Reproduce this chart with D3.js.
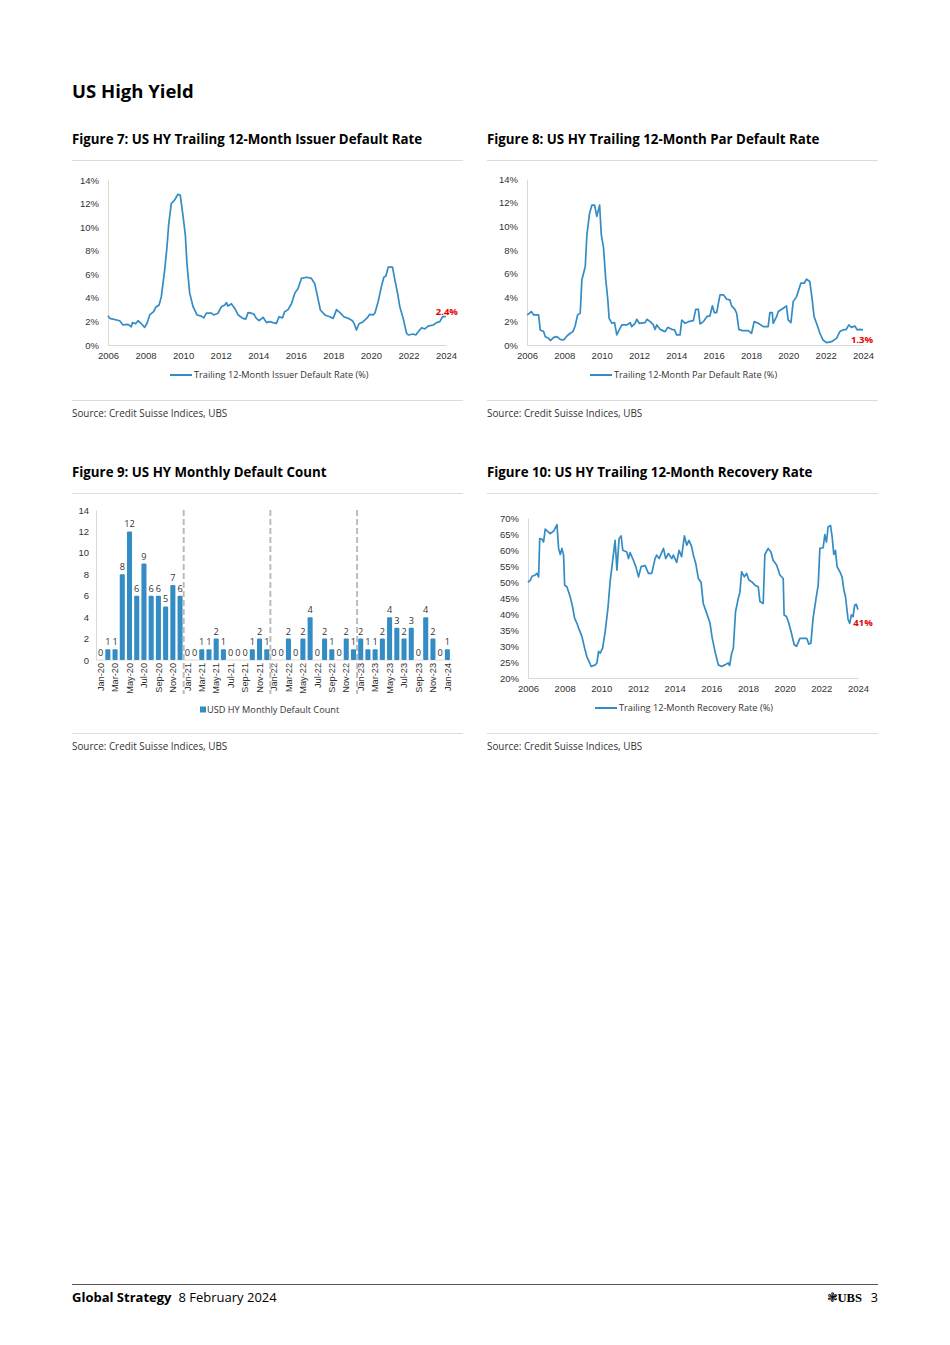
<!DOCTYPE html>
<html>
<head>
<meta charset="utf-8">
<script src="https://cdn.jsdelivr.net/npm/d3@7"></script>
<style>
  body { margin: 0; background: #fff; }
  svg { display: block; font-family: "Open Sans", "Noto Sans", sans-serif; }
</style>
</head>
<body>
<svg id="page" width="950" height="1345"></svg>
<script>
// ---- data ----
var yearTicks = [2006, 2008, 2010, 2012, 2014, 2016, 2018, 2020, 2022, 2024];

// Figure 7: trailing 12m issuer default rate, [year, %]
var issuerDefault = [
  [2006.00,2.49],[2006.10,2.26],[2006.62,2.06],[2006.80,1.70],[2007.07,1.75],[2007.24,1.55],
  [2007.30,1.90],[2007.47,1.80],[2007.60,2.06],[2007.78,1.80],[2007.95,1.50],[2008.08,1.84],
  [2008.22,2.55],[2008.43,2.83],[2008.54,3.20],[2008.72,3.40],[2008.84,4.10],[2009.02,6.40],
  [2009.14,8.30],[2009.23,10.20],[2009.37,12.00],[2009.55,12.30],[2009.73,12.80],[2009.85,12.70],
  [2010.00,10.90],[2010.12,9.30],[2010.21,6.80],[2010.35,4.40],[2010.53,3.25],[2010.74,2.55],
  [2010.97,2.45],[2011.10,2.30],[2011.24,2.70],[2011.51,2.70],[2011.63,2.55],[2011.86,2.70],
  [2012.04,3.25],[2012.22,3.40],[2012.31,3.60],[2012.39,3.30],[2012.57,3.50],[2012.75,3.10],
  [2012.93,2.55],[2013.19,2.26],[2013.34,2.20],[2013.46,2.75],[2013.64,2.70],[2013.78,2.60],
  [2013.90,2.26],[2014.05,2.06],[2014.26,2.35],[2014.44,1.90],[2014.61,1.98],[2014.79,1.90],
  [2014.97,1.84],[2015.11,2.40],[2015.29,2.30],[2015.41,2.83],[2015.59,3.00],[2015.77,3.50],
  [2015.95,4.40],[2016.12,4.80],[2016.30,5.65],[2016.57,5.75],[2016.83,5.65],[2017.01,5.20],
  [2017.14,4.25],[2017.31,2.97],[2017.55,2.55],[2017.81,2.40],[2017.99,2.26],[2018.17,3.00],
  [2018.38,2.70],[2018.56,2.40],[2018.79,2.26],[2019.02,2.06],[2019.14,1.70],[2019.23,1.27],
  [2019.37,1.80],[2019.59,1.98],[2019.80,2.30],[2019.94,2.60],[2020.12,2.55],[2020.21,2.70],
  [2020.39,3.70],[2020.56,4.95],[2020.69,5.75],[2020.80,5.85],[2020.92,6.60],[2021.15,6.60],
  [2021.28,5.50],[2021.42,4.40],[2021.54,3.25],[2021.72,2.26],[2021.90,1.00],[2021.99,0.85],
  [2022.25,0.93],[2022.39,0.85],[2022.52,1.13],[2022.70,1.47],[2022.87,1.36],[2023.05,1.60],
  [2023.32,1.70],[2023.50,1.90],[2023.67,1.98],[2023.82,2.40],[2023.99,2.40]
];

// Figure 8: trailing 12m par default rate, [year, %]
var parDefault = [
  [2006.00,2.54],[2006.09,2.62],[2006.23,2.82],[2006.36,2.54],[2006.62,2.54],[2006.71,1.27],
  [2006.89,1.13],[2006.98,0.70],[2007.16,0.56],[2007.25,0.37],[2007.43,0.65],[2007.60,0.70],
  [2007.78,0.48],[2007.96,0.42],[2008.14,0.76],[2008.32,0.99],[2008.46,1.13],[2008.58,1.60],
  [2008.71,2.54],[2008.85,2.68],[2008.94,5.50],[2009.12,6.60],[2009.21,9.30],[2009.35,11.10],
  [2009.48,11.80],[2009.62,11.80],[2009.74,10.85],[2009.89,11.80],[2009.98,9.30],[2010.10,8.20],
  [2010.22,5.50],[2010.33,3.80],[2010.40,2.25],[2010.55,1.83],[2010.69,1.89],[2010.81,0.85],
  [2010.94,1.27],[2011.08,1.69],[2011.35,1.69],[2011.53,1.89],[2011.61,1.55],[2011.79,1.83],
  [2011.88,2.17],[2012.01,1.83],[2012.33,1.89],[2012.42,2.17],[2012.60,1.97],[2012.77,1.69],
  [2012.86,1.32],[2012.95,1.69],[2013.13,1.32],[2013.40,1.13],[2013.54,1.49],[2013.75,1.32],
  [2013.90,1.27],[2014.02,0.85],[2014.20,0.85],[2014.29,2.11],[2014.47,1.83],[2014.65,1.97],
  [2014.91,2.06],[2015.04,3.00],[2015.18,3.00],[2015.27,1.77],[2015.45,1.97],[2015.63,2.39],
  [2015.80,2.45],[2015.93,3.30],[2016.04,2.73],[2016.16,2.73],[2016.34,4.23],[2016.52,4.23],
  [2016.70,3.86],[2016.87,3.80],[2016.96,3.30],[2017.14,3.00],[2017.23,2.68],[2017.35,1.32],
  [2017.53,1.21],[2017.85,1.21],[2018.03,0.99],[2018.17,1.97],[2018.39,1.83],[2018.66,1.55],
  [2018.92,1.55],[2019.01,2.73],[2019.14,2.73],[2019.19,1.83],[2019.37,2.39],[2019.46,2.82],
  [2019.73,3.10],[2019.90,3.30],[2019.99,2.11],[2020.14,1.89],[2020.26,3.66],[2020.44,4.08],
  [2020.67,5.21],[2020.85,5.21],[2020.97,5.55],[2021.15,5.35],[2021.28,3.80],[2021.38,2.39],
  [2021.51,1.83],[2021.69,0.99],[2021.86,0.42],[2022.04,0.20],[2022.31,0.28],[2022.58,0.56],
  [2022.76,1.13],[2022.93,1.27],[2023.11,1.32],[2023.24,1.69],[2023.38,1.49],[2023.56,1.60],
  [2023.70,1.27],[2023.83,1.32],[2024.00,1.27]
];

// Figure 10: trailing 12m recovery rate, [year, %]
var recoveryRate = [
  [2006.00,49.9],[2006.13,50.6],[2006.22,51.8],[2006.40,52.2],[2006.49,52.7],[2006.58,51.6],
  [2006.64,63.6],[2006.76,63.4],[2006.85,62.5],[2006.94,66.5],[2007.20,65.1],[2007.40,65.9],
  [2007.58,67.9],[2007.67,60.5],[2007.76,58.6],[2007.85,60.5],[2007.94,58.4],[2008.00,49.0],
  [2008.12,48.5],[2008.30,45.4],[2008.43,42.3],[2008.54,38.7],[2008.67,37.1],[2008.76,35.6],
  [2008.94,33.0],[2009.09,29.3],[2009.21,26.7],[2009.45,23.6],[2009.67,24.1],[2009.76,24.7],
  [2009.85,28.3],[2009.94,27.8],[2010.07,29.3],[2010.21,34.5],[2010.36,41.8],[2010.48,50.1],
  [2010.61,56.3],[2010.75,63.0],[2010.85,53.7],[2010.97,63.6],[2011.08,64.4],[2011.17,59.9],
  [2011.39,59.4],[2011.48,57.3],[2011.57,59.2],[2011.75,56.8],[2011.88,54.8],[2012.03,51.6],
  [2012.17,54.8],[2012.39,55.1],[2012.57,52.7],[2012.75,52.7],[2012.93,57.3],[2013.02,58.4],
  [2013.15,57.3],[2013.39,60.5],[2013.51,57.3],[2013.66,58.9],[2013.84,57.3],[2013.93,58.4],
  [2014.11,56.1],[2014.24,59.9],[2014.38,57.9],[2014.53,64.4],[2014.66,61.5],[2014.78,63.0],
  [2014.93,61.0],[2015.02,58.4],[2015.15,55.8],[2015.29,51.1],[2015.44,49.9],[2015.56,43.3],
  [2015.75,40.2],[2015.93,37.1],[2016.05,32.4],[2016.20,28.3],[2016.38,24.1],[2016.56,23.6],
  [2016.74,24.1],[2016.92,24.7],[2017.00,23.9],[2017.10,27.5],[2017.20,29.3],[2017.32,40.7],
  [2017.47,44.9],[2017.56,46.8],[2017.65,53.2],[2017.80,51.6],[2017.92,52.7],[2018.05,50.6],
  [2018.20,50.1],[2018.38,49.0],[2018.56,48.5],[2018.65,43.9],[2018.83,43.3],[2018.92,58.6],
  [2019.10,60.5],[2019.25,59.4],[2019.37,56.8],[2019.56,55.3],[2019.74,52.2],[2019.92,51.1],
  [2019.97,39.7],[2020.10,39.2],[2020.23,37.1],[2020.37,34.0],[2020.52,30.4],[2020.65,29.9],
  [2020.83,32.4],[2021.20,32.4],[2021.32,30.6],[2021.43,30.9],[2021.55,38.7],[2021.74,45.9],
  [2021.83,49.0],[2021.92,60.5],[2022.10,60.7],[2022.19,64.8],[2022.28,62.5],[2022.37,67.2],
  [2022.50,67.7],[2022.59,64.1],[2022.68,58.6],[2022.77,59.9],[2022.86,54.8],[2023.01,53.2],
  [2023.13,51.6],[2023.23,47.5],[2023.32,45.4],[2023.46,38.2],[2023.55,37.1],[2023.64,39.7],
  [2023.73,39.2],[2023.82,42.8],[2023.91,43.0],[2024.00,41.3]
];

// Figure 9: monthly default count Jan-20 .. Jan-24
var monthNames = ["Jan","Feb","Mar","Apr","May","Jun","Jul","Aug","Sep","Oct","Nov","Dec"];
var months = [];
[20, 21, 22, 23].forEach(function (yy) {
  monthNames.forEach(function (m) { months.push(m + "-" + yy); });
});
months.push("Jan-24");
var defaultCount = [
  0, 1, 1, 8, 12, 6, 9, 6, 6, 5, 7, 6,
  0, 0, 1, 1, 2, 1, 0, 0, 0, 1, 2, 1,
  0, 0, 2, 0, 2, 4, 0, 2, 1, 0, 2, 1,
  2, 1, 1, 2, 4, 3, 2, 3, 0, 4, 2, 0,
  1
];
var yearBreaks = ["Jan-21", "Jan-22", "Jan-23"];

// ---- styles ----
var BLUE = "#348cc4";
var RED = "#e60000";
var TXT = "#333";
var AXIS = "#d9d9d9";
var RULE = "#dcdcdc";

var svg = d3.select("#page");

function pageText(x, y, str, size, weight, anchor, fill) {
  return svg.append("text")
    .attr("x", x).attr("y", y)
    .attr("font-size", size)
    .attr("font-weight", weight || "normal")
    .attr("text-anchor", anchor || "start")
    .attr("fill", fill || "#000")
    .text(str);
}

// ---- page furniture ----
pageText(72, 98, "US High Yield", 18.5, "bold");

function panel(x, top, title, source) {
  pageText(x, top, title, 13.3, "bold");
  svg.append("line").attr("x1", x).attr("x2", x + 391)
    .attr("y1", top + 16.5).attr("y2", top + 16.5).attr("stroke", RULE);
  svg.append("line").attr("x1", x).attr("x2", x + 391)
    .attr("y1", top + 256.5).attr("y2", top + 256.5).attr("stroke", RULE);
  pageText(x, top + 273, source, 9.9, "normal", "start", TXT);
}
panel(72, 144, "Figure 7: US HY Trailing 12-Month Issuer Default Rate", "Source: Credit Suisse Indices, UBS");
panel(487, 144, "Figure 8: US HY Trailing 12-Month Par Default Rate", "Source: Credit Suisse Indices, UBS");
panel(72, 477, "Figure 9: US HY Monthly Default Count", "Source: Credit Suisse Indices, UBS");
panel(487, 477, "Figure 10: US HY Trailing 12-Month Recovery Rate", "Source: Credit Suisse Indices, UBS");

// ---- line charts ----
function styleAxis(g) {
  g.select(".domain").attr("stroke", AXIS);
  g.selectAll(".tick line").remove();
  g.selectAll(".tick text").attr("fill", TXT).attr("font-size", 9.5);
}

function lineChart(cfg) {
  var x = d3.scaleLinear().domain([2006, 2024]).range([cfg.left, cfg.right]);
  var y = d3.scaleLinear().domain(cfg.yDomain).range([cfg.bottom, cfg.top]);

  svg.append("g")
    .attr("transform", "translate(" + cfg.left + ",0)")
    .call(d3.axisLeft(y).tickValues(cfg.yTicks).tickSize(0).tickPadding(9)
      .tickFormat(function (d) { return d + "%"; }))
    .call(styleAxis);

  svg.append("g")
    .attr("transform", "translate(0," + cfg.bottom + ")")
    .call(d3.axisBottom(x).tickValues(yearTicks).tickSize(0).tickPadding(7)
      .tickFormat(d3.format("d")))
    .call(styleAxis);

  var line = d3.line()
    .x(function (d) { return x(d[0]); })
    .y(function (d) { return y(d[1]); });

  svg.append("path")
    .datum(cfg.data)
    .attr("fill", "none")
    .attr("stroke", BLUE)
    .attr("stroke-width", 1.7)
    .attr("stroke-linejoin", "round")
    .attr("d", line);

  var last = cfg.data[cfg.data.length - 1];
  svg.append("text")
    .attr("x", x(last[0]) + cfg.labelDx)
    .attr("y", y(last[1]) + cfg.labelDy)
    .attr("text-anchor", "middle")
    .attr("font-size", 9.5)
    .attr("font-weight", "bold")
    .attr("fill", RED)
    .text(cfg.label);

  // legend
  var lg = svg.append("g").attr("transform", "translate(" + cfg.legendX + "," + (cfg.bottom + 30) + ")");
  lg.append("line").attr("x1", 0).attr("x2", 22).attr("y1", 0).attr("y2", 0)
    .attr("stroke", BLUE).attr("stroke-width", 2);
  lg.append("text").attr("x", 24).attr("y", 3.2).attr("font-size", 9.2)
    .attr("fill", TXT).text(cfg.legend);
}

lineChart({
  left: 108, right: 446, top: 180, bottom: 345,
  yDomain: [0, 14], yTicks: d3.range(0, 15, 2),
  data: issuerDefault, label: "2.4%", labelDx: 1, labelDy: -2,
  legend: "Trailing 12-Month Issuer Default Rate (%)", legendX: 170
});

lineChart({
  left: 527, right: 863, top: 179, bottom: 345,
  yDomain: [0, 14], yTicks: d3.range(0, 15, 2),
  data: parDefault, label: "1.3%", labelDx: -1, labelDy: 13,
  legend: "Trailing 12-Month Par Default Rate (%)", legendX: 590
});

lineChart({
  left: 528, right: 858, top: 518, bottom: 678,
  yDomain: [20, 70], yTicks: d3.range(20, 71, 5),
  data: recoveryRate, label: "41%", labelDx: 5, labelDy: 16,
  legend: "Trailing 12-Month Recovery Rate (%)", legendX: 595
});

// ---- bar chart (figure 9) ----
(function () {
  var left = 96, right = 452, top = 510, bottom = 660;
  var x = d3.scaleBand().domain(months).range([left + 1, right - 1]).paddingInner(0.3).paddingOuter(0.15);
  var y = d3.scaleLinear().domain([0, 14]).range([bottom, top]);

  svg.append("g")
    .attr("transform", "translate(" + left + ",0)")
    .call(d3.axisLeft(y).tickValues(d3.range(0, 15, 2)).tickSize(0).tickPadding(7))
    .call(styleAxis);

  var xa = svg.append("g")
    .attr("transform", "translate(0," + bottom + ")")
    .call(d3.axisBottom(x).tickSize(0)
      .tickValues(months.filter(function (d, i) { return i % 2 === 0; })))
    .call(styleAxis);
  xa.select(".domain").attr("d", "M" + left + ",0H" + right);
  xa.selectAll(".tick text")
    .attr("transform", "rotate(-90)")
    .attr("text-anchor", "end")
    .attr("x", -3).attr("y", 0).attr("dy", "0.35em")
    .attr("font-size", 9.2);

  var rows = months.map(function (m, i) { return { m: m, v: defaultCount[i] }; });

  svg.append("g").selectAll("rect")
    .data(rows.filter(function (d) { return d.v > 0; }))
    .join("rect")
    .attr("x", function (d) { return x(d.m); })
    .attr("width", x.bandwidth())
    .attr("y", function (d) { return y(d.v); })
    .attr("height", function (d) { return y(0) - y(d.v); })
    .attr("rx", 1)
    .attr("fill", BLUE);

  svg.append("g").selectAll("text")
    .data(rows)
    .join("text")
    .attr("x", function (d) { return x(d.m) + x.bandwidth() / 2; })
    .attr("y", function (d) { return y(d.v) - 4; })
    .attr("text-anchor", "middle")
    .attr("font-size", 9.2)
    .attr("fill", TXT)
    .text(function (d) { return d.v; });

  svg.append("g").selectAll("line")
    .data(yearBreaks)
    .join("line")
    .attr("x1", function (d) { return x(d) - x.step() * x.paddingInner() / 2; })
    .attr("x2", function (d) { return x(d) - x.step() * x.paddingInner() / 2; })
    .attr("y1", top).attr("y2", 694)
    .attr("stroke", "#bbb")
    .attr("stroke-width", 2)
    .attr("stroke-dasharray", "6,3");

  var lg = svg.append("g").attr("transform", "translate(200,710)");
  lg.append("rect").attr("x", 0).attr("y", -3.5).attr("width", 6).attr("height", 6).attr("fill", BLUE);
  lg.append("text").attr("x", 7).attr("y", 3.2).attr("font-size", 9.2).attr("fill", TXT)
    .text("USD HY Monthly Default Count");
})();

// ---- footer ----
svg.append("line").attr("x1", 72).attr("x2", 878).attr("y1", 1284.5).attr("y2", 1284.5)
  .attr("stroke", "#555").attr("stroke-width", 1);
var ft = pageText(72, 1302, "", 13, "bold");
ft.append("tspan").text("Global Strategy");
ft.append("tspan").attr("font-weight", "normal").attr("dx", 7).text("8 February 2024");
pageText(862, 1302, "UBS", 12.6, "bold", "end").attr("font-family", "Liberation Serif, serif");
pageText(838, 1302, "\u2743", 13, "normal", "end").attr("font-family", "DejaVu Sans");
pageText(878, 1302, "3", 12.6, "normal", "end");
</script>
</body>
</html>
